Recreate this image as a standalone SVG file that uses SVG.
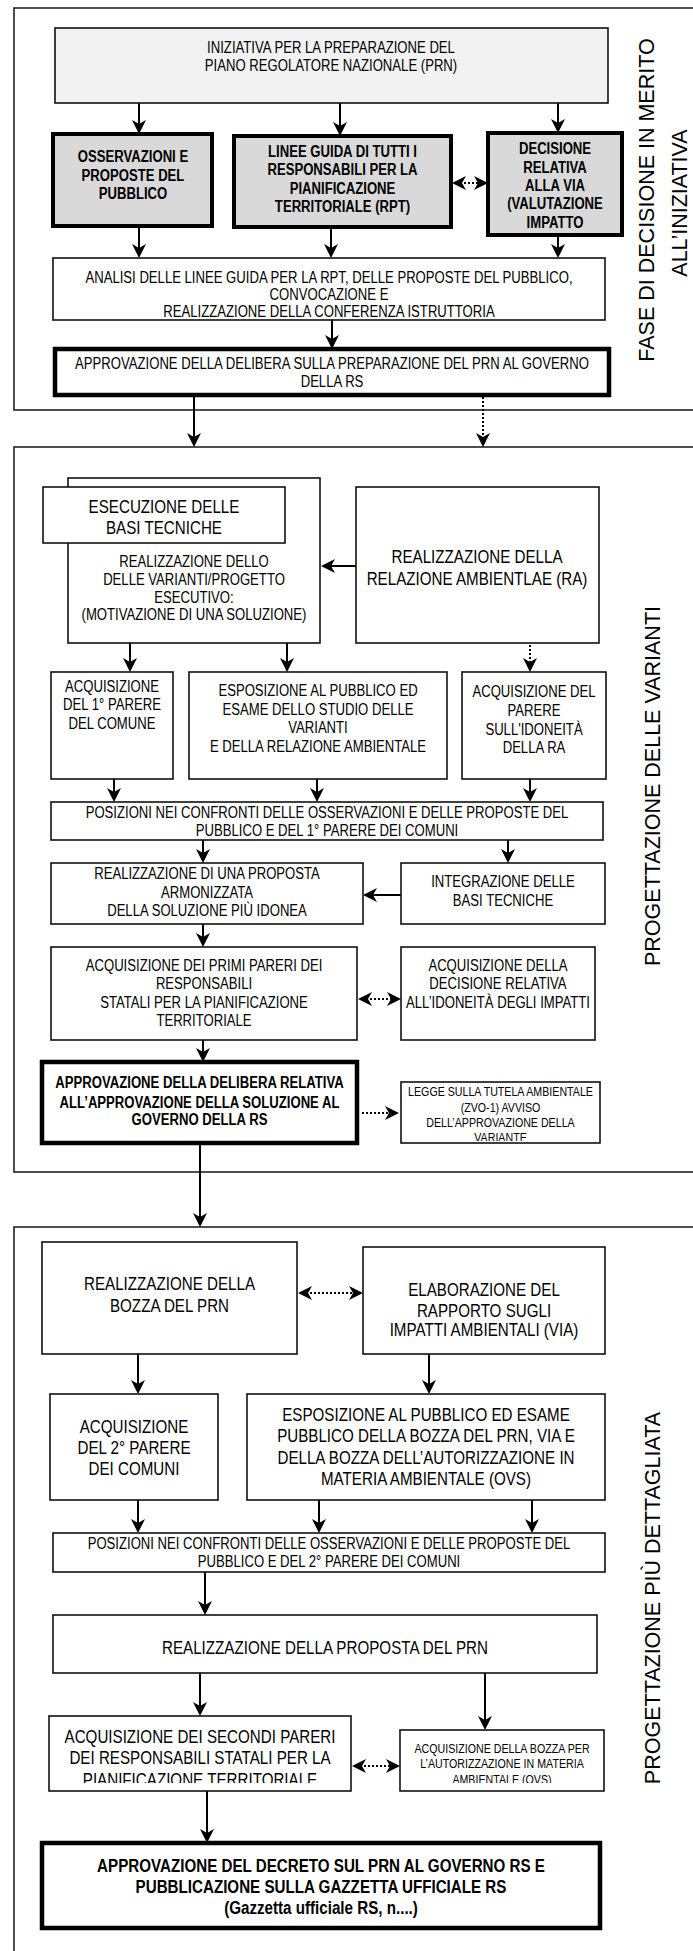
<svg xmlns="http://www.w3.org/2000/svg" width="693" height="1951" viewBox="0 0 693 1951">
<style>
.t{font-family:"Liberation Sans",Arial,sans-serif;font-size:16px;text-anchor:middle;fill:#000}
.l{font-size:18.5px}
.s{font-size:13px}
.b{font-weight:bold}
.side{font-family:"Liberation Sans",Arial,sans-serif;font-size:21.5px;text-anchor:middle;fill:#000}
.frame{fill:none;stroke:#222;stroke-width:1.6}
.box{fill:#fff;stroke:#111;stroke-width:1.6}
.thick{fill:#fff;stroke:#000;stroke-width:4.5}
.grey{fill:#d9d9d9;stroke:#000;stroke-width:4}
.light{fill:#f2f2f2;stroke:#111;stroke-width:1.6}
.c{fill:none;stroke:#000;stroke-width:2;marker-end:url(#ah)}
.d{fill:none;stroke:#000;stroke-width:2;stroke-dasharray:2 2;marker-end:url(#ah)}
.dd{fill:none;stroke:#000;stroke-width:2;stroke-dasharray:2 2;marker-end:url(#ah);marker-start:url(#ah)}
</style>
<defs>
<marker id="ah" viewBox="0 0 14 14" refX="10" refY="7" markerWidth="14" markerHeight="14" markerUnits="userSpaceOnUse" orient="auto-start-reverse"><path d="M0,0 L14,7 L0,14 L4,7 z" fill="#000"/></marker>
<clipPath id="clipLegge"><rect x="401" y="1082" width="199" height="59"/></clipPath>
<clipPath id="clipSec"><rect x="49" y="1716" width="302" height="67"/></clipPath>
<clipPath id="clipBozza"><rect x="400" y="1730" width="204" height="53"/></clipPath>
</defs>
<rect width="693" height="1951" fill="#fff"/>

<g id="frames">
<rect class="frame" x="14" y="8" width="700" height="402"/>
<rect class="frame" x="14" y="447" width="700" height="725"/>
<rect class="frame" x="14" y="1227" width="700" height="800"/>
<text class="side" transform="translate(654,200) rotate(-90)">FASE DI DECISIONE IN MERITO</text>
<text class="side" transform="translate(687,203) rotate(-90)">ALL’INIZIATIVA</text>
<text class="side" transform="translate(660,786) rotate(-90)">PROGETTAZIONE DELLE VARIANTI</text>
<text class="side" transform="translate(660,1598) rotate(-90)">PROGETTAZIONE PIÙ DETTAGLIATA</text>
</g>

<g id="connectors">
<path class="c" d="M139,103 V130"/>
<path class="c" d="M340,103 V132"/>
<path class="c" d="M558,103 V129"/>
<path class="c" d="M139,226 V254"/>
<path class="c" d="M331,227 V254"/>
<path class="c" d="M558,235 V254"/>
<path class="c" d="M332,320 V345"/>
<path class="c" d="M194,395 V443"/>
<path class="d" d="M483,397 V443"/>
<path class="c" d="M356,566 H325"/>
<path class="c" d="M130,643 V668"/>
<path class="c" d="M287,643 V668"/>
<path class="d" d="M530,645 V668"/>
<path class="c" d="M114,779 V798"/>
<path class="c" d="M317,779 V798"/>
<path class="c" d="M530,779 V798"/>
<path class="c" d="M203,840 V859"/>
<path class="c" d="M508,840 V859"/>
<path class="c" d="M401,895 H367"/>
<path class="c" d="M203,924 V943"/>
<path class="c" d="M203,1040 V1058"/>
<path class="c" d="M200,1143 V1223"/>
<path class="d" d="M362,1113 H395"/>
<path class="dd" d="M456,183 H484"/>
<path class="dd" d="M362,999 H397"/>
<path class="dd" d="M302,1293 H359"/>
<path class="dd" d="M356,1766 H396"/>
<path class="c" d="M138,1354 V1390"/>
<path class="c" d="M429,1354 V1390"/>
<path class="c" d="M138,1500 V1529"/>
<path class="c" d="M319,1500 V1529"/>
<path class="c" d="M532,1500 V1529"/>
<path class="c" d="M205,1572 V1611"/>
<path class="c" d="M200,1673 V1712"/>
<path class="c" d="M485,1673 V1726"/>
<path class="c" d="M207,1791 V1839"/>
</g>

<g id="iniziativa">
<rect class="light" x="55" y="28" width="553" height="75"/>
<text class="t" transform="translate(331 52.5) scale(.82 1)">INIZIATIVA PER LA PREPARAZIONE DEL</text>
<text class="t" transform="translate(331 70.5) scale(.82 1)">PIANO REGOLATORE NAZIONALE (PRN)</text>
</g>
<g id="osservazioni">
<rect class="grey" x="53" y="134" width="159" height="92"/>
<text class="t b" transform="translate(133 162) scale(.82 1)">OSSERVAZIONI E</text>
<text class="t b" transform="translate(133 180.5) scale(.82 1)">PROPOSTE DEL</text>
<text class="t b" transform="translate(133 199) scale(.82 1)">PUBBLICO</text>
</g>
<g id="linee-guida">
<rect class="grey" x="234" y="136" width="217" height="91"/>
<text class="t b" transform="translate(342.5 157) scale(.82 1)">LINEE GUIDA DI TUTTI I</text>
<text class="t b" transform="translate(342.5 175) scale(.82 1)">RESPONSABILI PER LA</text>
<text class="t b" transform="translate(342.5 193.5) scale(.82 1)">PIANIFICAZIONE</text>
<text class="t b" transform="translate(342.5 211.5) scale(.82 1)">TERRITORIALE (RPT)</text>
</g>
<g id="decisione-via">
<rect class="grey" x="488" y="133" width="134" height="102"/>
<text class="t b" transform="translate(555 154) scale(.82 1)">DECISIONE</text>
<text class="t b" transform="translate(555 172.5) scale(.82 1)">RELATIVA</text>
<text class="t b" transform="translate(555 191) scale(.82 1)">ALLA VIA</text>
<text class="t b" transform="translate(555 209) scale(.82 1)">(VALUTAZIONE</text>
<text class="t b" transform="translate(555 227.5) scale(.82 1)">IMPATTO</text>
</g>
<g id="analisi">
<rect class="box" x="53" y="258" width="552" height="62"/>
<text class="t" transform="translate(329 282.5) scale(.82 1)">ANALISI DELLE LINEE GUIDA PER LA RPT, DELLE PROPOSTE DEL PUBBLICO,</text>
<text class="t" transform="translate(329 299.5) scale(.82 1)">CONVOCAZIONE E</text>
<text class="t" transform="translate(329 316.5) scale(.82 1)">REALIZZAZIONE DELLA CONFERENZA ISTRUTTORIA</text>
</g>
<g id="approvazione-prn">
<rect class="thick" x="55" y="349" width="554" height="46"/>
<text class="t" transform="translate(332 369) scale(.82 1)">APPROVAZIONE DELLA DELIBERA SULLA PREPARAZIONE DEL PRN AL GOVERNO</text>
<text class="t" transform="translate(332 387) scale(.82 1)">DELLA RS</text>
</g>

<g id="varianti">
<rect class="box" x="68" y="478" width="252" height="165"/>
<text class="t" transform="translate(194 567) scale(.82 1)">REALIZZAZIONE DELLO</text>
<text class="t" transform="translate(194 585) scale(.82 1)">DELLE VARIANTI/PROGETTO</text>
<text class="t" transform="translate(194 603) scale(.82 1)">ESECUTIVO:</text>
<text class="t" transform="translate(194 620) scale(.82 1)">(MOTIVAZIONE DI UNA SOLUZIONE)</text>
</g>
<g id="basi-tecniche">
<rect class="box" x="43" y="487" width="242" height="56"/>
<text class="t l" transform="translate(164 513) scale(.82 1)">ESECUZIONE DELLE</text>
<text class="t l" transform="translate(164 534) scale(.82 1)">BASI TECNICHE</text>
</g>
<g id="relazione-ambientale">
<rect class="box" x="356" y="487" width="243" height="156"/>
<text class="t l" transform="translate(477 563) scale(.82 1)">REALIZZAZIONE DELLA</text>
<text class="t l" transform="translate(477 584.5) scale(.82 1)">RELAZIONE AMBIENTLAE (RA)</text>
</g>
<g id="parere-comune">
<rect class="box" x="51" y="672" width="122" height="107"/>
<text class="t" transform="translate(112 692) scale(.82 1)">ACQUISIZIONE</text>
<text class="t" transform="translate(112 710) scale(.82 1)">DEL 1° PARERE</text>
<text class="t" transform="translate(112 729) scale(.82 1)">DEL COMUNE</text>
</g>
<g id="esposizione-varianti">
<rect class="box" x="189" y="672" width="258" height="107"/>
<text class="t" transform="translate(318 696) scale(.82 1)">ESPOSIZIONE AL PUBBLICO ED</text>
<text class="t" transform="translate(318 715) scale(.82 1)">ESAME DELLO STUDIO DELLE</text>
<text class="t" transform="translate(318 733) scale(.82 1)">VARIANTI</text>
<text class="t" transform="translate(318 752) scale(.82 1)">E DELLA RELAZIONE AMBIENTALE</text>
</g>
<g id="parere-ra">
<rect class="box" x="462" y="672" width="144" height="107"/>
<text class="t" transform="translate(534 697) scale(.82 1)">ACQUISIZIONE DEL</text>
<text class="t" transform="translate(534 716) scale(.82 1)">PARERE</text>
<text class="t" transform="translate(534 735) scale(.82 1)">SULL'IDONEITÀ</text>
<text class="t" transform="translate(534 753) scale(.82 1)">DELLA RA</text>
</g>
<g id="posizioni-1">
<rect class="box" x="51" y="802" width="552" height="38"/>
<text class="t" transform="translate(327 818) scale(.82 1)">POSIZIONI NEI CONFRONTI DELLE OSSERVAZIONI E DELLE PROPOSTE DEL</text>
<text class="t" transform="translate(327 836) scale(.82 1)">PUBBLICO E DEL 1° PARERE DEI COMUNI</text>
</g>
<g id="proposta-armonizzata">
<rect class="box" x="51" y="863" width="312" height="61"/>
<text class="t" transform="translate(207 879) scale(.82 1)">REALIZZAZIONE DI UNA PROPOSTA</text>
<text class="t" transform="translate(207 898) scale(.82 1)">ARMONIZZATA</text>
<text class="t" transform="translate(207 916) scale(.82 1)">DELLA SOLUZIONE PIÙ IDONEA</text>
</g>
<g id="integrazione">
<rect class="box" x="401" y="863" width="204" height="61"/>
<text class="t" transform="translate(503 887) scale(.82 1)">INTEGRAZIONE DELLE</text>
<text class="t" transform="translate(503 906) scale(.82 1)">BASI TECNICHE</text>
</g>
<g id="primi-pareri">
<rect class="box" x="51" y="947" width="306" height="93"/>
<text class="t" transform="translate(204 971) scale(.82 1)">ACQUISIZIONE DEI PRIMI PARERI DEI</text>
<text class="t" transform="translate(204 989) scale(.82 1)">RESPONSABILI</text>
<text class="t" transform="translate(204 1008) scale(.82 1)">STATALI PER LA PIANIFICAZIONE</text>
<text class="t" transform="translate(204 1026) scale(.82 1)">TERRITORIALE</text>
</g>
<g id="decisione-impatti">
<rect class="box" x="401" y="947" width="194" height="93"/>
<text class="t" transform="translate(498 971) scale(.82 1)">ACQUISIZIONE DELLA</text>
<text class="t" transform="translate(498 989) scale(.82 1)">DECISIONE RELATIVA</text>
<text class="t" transform="translate(498 1008) scale(.82 1)">ALL’IDONEITÀ DEGLI IMPATTI</text>
</g>
<g id="approvazione-soluzione">
<rect class="thick" x="42" y="1062" width="315" height="81"/>
<text class="t b" transform="translate(199.5 1088) scale(.82 1)">APPROVAZIONE DELLA DELIBERA RELATIVA</text>
<text class="t b" transform="translate(199.5 1107.5) scale(.82 1)">ALL’APPROVAZIONE DELLA SOLUZIONE AL</text>
<text class="t b" transform="translate(199.5 1125) scale(.82 1)">GOVERNO DELLA RS</text>
</g>
<g id="legge-zvo">
<rect class="box" x="401" y="1082" width="199" height="61"/>
<g clip-path="url(#clipLegge)">
<text class="t s" transform="translate(500.5 1096) scale(.82 1)">LEGGE SULLA TUTELA AMBIENTALE</text>
<text class="t s" transform="translate(500.5 1111.5) scale(.82 1)">(ZVO-1) AVVISO</text>
<text class="t s" transform="translate(500.5 1127) scale(.82 1)">DELL’APPROVAZIONE DELLA</text>
<text class="t s" transform="translate(500.5 1142) scale(.82 1)">VARIANTE</text>
</g>
</g>

<g id="bozza-prn">
<rect class="box" x="42" y="1242" width="255" height="112"/>
<text class="t l" transform="translate(169.5 1290) scale(.82 1)">REALIZZAZIONE DELLA</text>
<text class="t l" transform="translate(169.5 1311.5) scale(.82 1)">BOZZA DEL PRN</text>
</g>
<g id="rapporto-via">
<rect class="box" x="363" y="1247" width="242" height="107"/>
<text class="t l" transform="translate(484 1296) scale(.82 1)">ELABORAZIONE DEL</text>
<text class="t l" transform="translate(484 1316.5) scale(.82 1)">RAPPORTO SUGLI</text>
<text class="t l" transform="translate(484 1336) scale(.82 1)">IMPATTI AMBIENTALI (VIA)</text>
</g>
<g id="parere-comuni-2">
<rect class="box" x="50" y="1394" width="168" height="106"/>
<text class="t l" transform="translate(134 1432.5) scale(.82 1)">ACQUISIZIONE</text>
<text class="t l" transform="translate(134 1454) scale(.82 1)">DEL 2° PARERE</text>
<text class="t l" transform="translate(134 1475) scale(.82 1)">DEI COMUNI</text>
</g>
<g id="esposizione-bozza">
<rect class="box" x="247" y="1394" width="358" height="106"/>
<text class="t l" transform="translate(426 1420.5) scale(.82 1)">ESPOSIZIONE AL PUBBLICO ED ESAME</text>
<text class="t l" transform="translate(426 1442) scale(.82 1)">PUBBLICO DELLA BOZZA DEL PRN, VIA E</text>
<text class="t l" transform="translate(426 1463.5) scale(.82 1)">DELLA BOZZA DELL’AUTORIZZAZIONE IN</text>
<text class="t l" transform="translate(426 1485) scale(.82 1)">MATERIA AMBIENTALE (OVS)</text>
</g>
<g id="posizioni-2">
<rect class="box" x="53" y="1533" width="552" height="39"/>
<text class="t" transform="translate(329 1549) scale(.82 1)">POSIZIONI NEI CONFRONTI DELLE OSSERVAZIONI E DELLE PROPOSTE DEL</text>
<text class="t" transform="translate(329 1567) scale(.82 1)">PUBBLICO E DEL 2° PARERE DEI COMUNI</text>
</g>
<g id="proposta-prn">
<rect class="box" x="53" y="1615" width="544" height="58"/>
<text class="t l" transform="translate(325 1654) scale(.82 1)">REALIZZAZIONE DELLA PROPOSTA DEL PRN</text>
</g>
<g id="secondi-pareri">
<rect class="box" x="49" y="1716" width="302" height="75"/>
<g clip-path="url(#clipSec)">
<text class="t l" transform="translate(200 1742.5) scale(.82 1)">ACQUISIZIONE DEI SECONDI PARERI</text>
<text class="t l" transform="translate(200 1764) scale(.82 1)">DEI RESPONSABILI STATALI PER LA</text>
<text class="t l" transform="translate(200 1785.5) scale(.82 1)">PIANIFICAZIONE TERRITORIALE</text>
</g>
</g>
<g id="bozza-ovs">
<rect class="box" x="400" y="1730" width="204" height="61"/>
<g clip-path="url(#clipBozza)">
<text class="t s" transform="translate(502 1752.5) scale(.82 1)">ACQUISIZIONE DELLA BOZZA PER</text>
<text class="t s" transform="translate(502 1768) scale(.82 1)">L’AUTORIZZAZIONE IN MATERIA</text>
<text class="t s" transform="translate(502 1784) scale(.82 1)">AMBIENTALE (OVS)</text>
</g>
</g>
<g id="decreto-prn">
<rect class="thick" x="42" y="1843" width="558" height="85"/>
<text class="t l b" transform="translate(321 1871.5) scale(.82 1)">APPROVAZIONE DEL DECRETO SUL PRN AL GOVERNO RS E</text>
<text class="t l b" transform="translate(321 1893) scale(.82 1)">PUBBLICAZIONE SULLA GAZZETTA UFFICIALE RS</text>
<text class="t l b" transform="translate(321 1914) scale(.82 1)">(Gazzetta ufficiale RS, n....)</text>
</g>
</svg>
